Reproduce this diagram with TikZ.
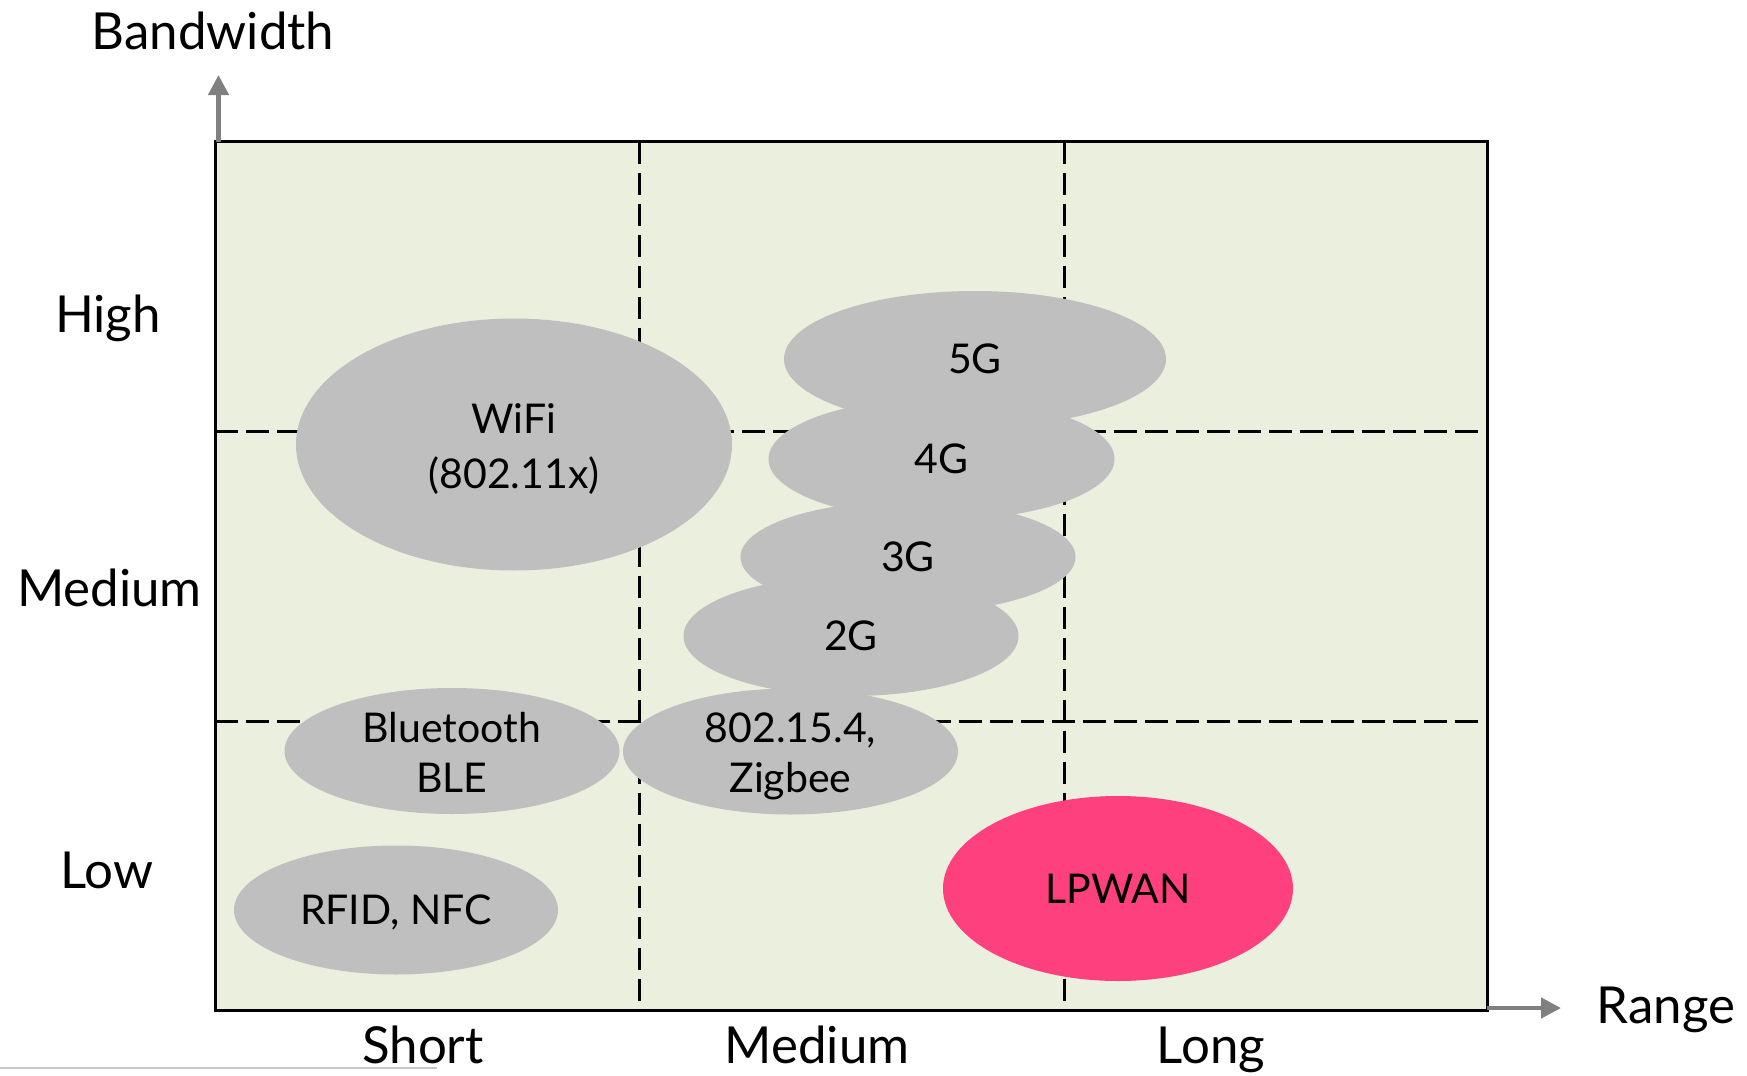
\documentclass[tikz,border=0pt]{standalone}
\usepackage{fontspec}
\setmainfont{Lato}
\usetikzlibrary{shapes.geometric,arrows.meta}
\definecolor{bgpanel}{RGB}{234,239,222}
\definecolor{blobgray}{RGB}{191,191,191}
\definecolor{lpwanpink}{RGB}{255,64,127}
\definecolor{axisgray}{RGB}{128,128,128}
\definecolor{rulegray}{RGB}{200,200,200}
\tikzset{
  blob/.style={ellipse, fill=blobgray, inner sep=0pt},
  blobtext/.style={inner sep=0pt, align=center, font=\fontsize{20.5}{25}\selectfont},
  axislabel/.style={anchor=base, inner sep=0pt, font=\fontsize{25.5}{30}\selectfont},
  gridline/.style={line width=1.5pt, dash pattern=on 11.25pt off 4.25pt},
  axisarrow/.style={axisgray, line width=2.2pt, -{Triangle[length=10pt,width=10pt]}},
}
\begin{document}
\begin{tikzpicture}[x=0.5pt,y=-0.5pt]
\useasboundingbox (0,0) rectangle (1747,1076);
% panel
\fill[bgpanel] (215,141.5) rectangle (1487,1010);
\coordinate (vA1) at (639.5,141.5); \coordinate (vA2) at (639.5,1010);
\coordinate (vB1) at (1064,141.5);  \coordinate (vB2) at (1064,1010);
\coordinate (hA1) at (215,431);     \coordinate (hA2) at (1487,431);
\coordinate (hB1) at (215,721);     \coordinate (hB2) at (1487,721);
\draw[gridline] (vA1) -- (vA2);
\draw[gridline] (vB1) -- (vB2);
\draw[gridline] (hA1) -- (hA2);
\draw[gridline] (hB1) -- (hB2);
% blobs
\node[blob, minimum width=218pt, minimum height=126pt] (wifi) at (514,444.5) {};
\node[blob, minimum width=191pt, minimum height=68pt] (g5) at (975,359) {};
\node[blob, minimum width=173pt, minimum height=61pt] (g4) at (941.5,459) {};
\node[blob, minimum width=167.5pt, minimum height=56pt] (g3) at (908,557) {};
\node[blob, minimum width=167.5pt, minimum height=60pt] (g2) at (851,636) {};
\node[blob, minimum width=167.5pt, minimum height=63pt] (zig) at (790.5,751.5) {};
\node[blob, minimum width=167.5pt, minimum height=63pt] (ble) at (452,751) {};
\node[blob, minimum width=162pt, minimum height=64.5pt] (rfid) at (396,910) {};
\node[blob, fill=lpwanpink, minimum width=175pt, minimum height=92.5pt] (lpwan) at (1118,888.5) {};
% blob texts
\node[blobtext, font=\fontsize{20.5}{27.5}\selectfont] (twifi) at ([yshift=-2.5pt]wifi.center) {WiFi\\(802.11x)};
\node[blobtext] (tg5) at (g5.center) {5G};
\node[blobtext] (tg4) at (g4.center) {4G};
\node[blobtext] (tg3) at (g3.center) {3G};
\node[blobtext] (tg2) at (g2.center) {2G};
\node[blobtext] (tzig) at ([yshift=-2.5pt]zig.center) {802.15.4,\\Zigbee};
\node[blobtext] (tble) at ([yshift=-0.5pt]ble.center) {Bluetooth\\BLE};
\node[blobtext] (trfid) at ([yshift=-1pt]rfid.center) {RFID, NFC};
\node[blobtext] (tlpwan) at (lpwan.center) {LPWAN};
% frame
\draw[line width=1.5pt] (215,141.5) rectangle (1487,1010);
% axes
\coordinate (yfoot) at (218.5,141.5); \coordinate (ytip) at (218.5,75);
\coordinate (xfoot) at (1487,1008);   \coordinate (xtip) at (1561,1008);
\draw[axisarrow] (yfoot) -- (ytip);
\draw[axisarrow] (xfoot) -- (xtip);
% labels
\node[axislabel] (lbw) at (213,49) {Bandwidth};
\node[axislabel] (lrange) at (1666,1023) {Range};
\node[axislabel] (lhigh) at (108,332.5) {High};
\node[axislabel] (lmedy) at (109.5,606) {Medium};
\node[axislabel] (llow) at (107,888) {Low};
\node[axislabel] (lshort) at (423,1063) {Short};
\node[axislabel] (lmedx) at (817,1063) {Medium};
\node[axislabel] (llong) at (1211,1063) {Long};
% stray rule at bottom left
\coordinate (r1) at (0,1068); \coordinate (r2) at (437,1068);
\draw[rulegray, line width=0.8pt] (r1) -- (r2);
\end{tikzpicture}
\end{document}
